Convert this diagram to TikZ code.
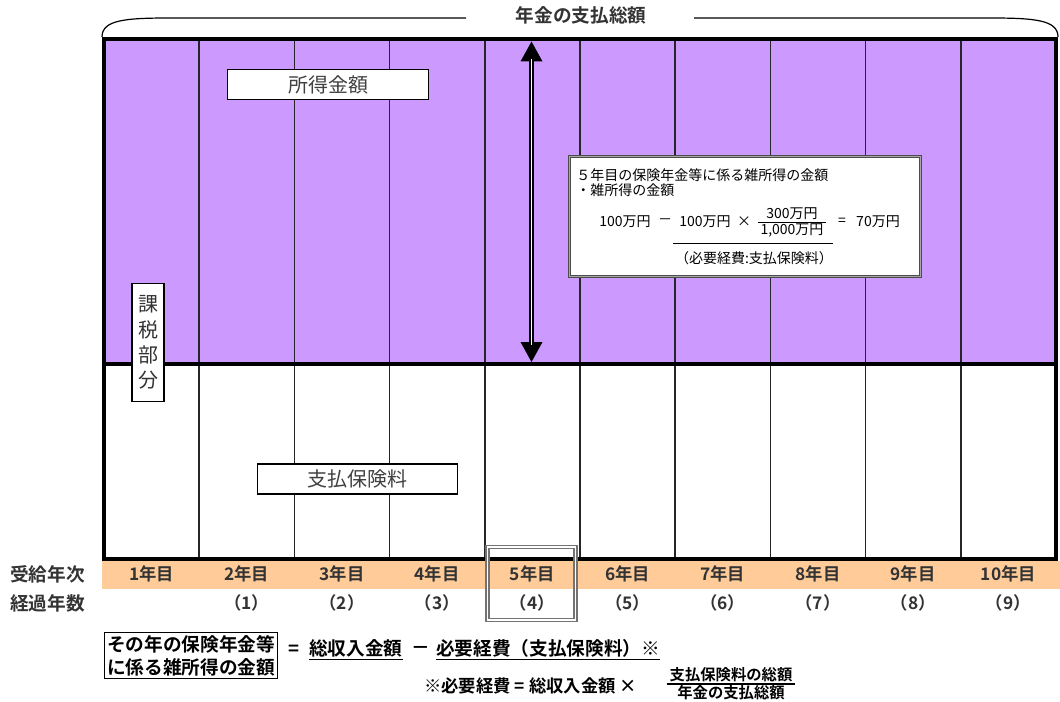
\documentclass[tikz,border=0pt]{standalone}
\usepackage{fontspec}
\setmainfont{Noto Sans CJK JP}[BoldFont={Noto Sans CJK JP Bold}]
\usetikzlibrary{arrows.meta}
\definecolor{kazei}{HTML}{CC99FF}
\definecolor{nenji}{HTML}{FFCC99}
\tikzset{
  waku/.style={draw, line width=0.9pt, fill=white, text=black!75,
    font=\fontsize{15}{18}\selectfont, inner sep=0pt},
  nen/.style={font=\bfseries\fontsize{13}{15}\selectfont, text=black!80},
  midashi/.style={font=\bfseries\fontsize{14}{16}\selectfont, text=black!80},
  setsumei/.style={font=\fontsize{10.5}{13}\selectfont, inner sep=0pt},
  shiki/.style={font=\bfseries\fontsize{14}{17.3}\selectfont, inner sep=0pt},
  chuki/.style={font=\bfseries\fontsize{13}{14}\selectfont, inner sep=0pt},
  yajirushi/.style={line width=4pt,
    {Triangle[width=16.5pt,length=15pt,line width=0pt]}-{Triangle[width=16.5pt,length=15pt,line width=0pt]}},
}
\begin{document}
\begin{tikzpicture}[x=0.75pt,y=-0.75pt]
\useasboundingbox (0,0) rectangle (1060,702);
% areas
\fill[kazei] (104,39) rectangle (1056,364);
\fill[nenji] (102,561) rectangle (1060,589);
% columns
\begin{scope}[line width=1.2pt, black!85]
  \draw (199.2,39) -- (199.2,559);
  \draw (294.4,39) -- (294.4,559);
  \draw (389.6,39) -- (389.6,559);
  \draw (484.8,39) -- (484.8,559);
  \draw (580.0,39) -- (580.0,559);
  \draw (675.2,39) -- (675.2,559);
  \draw (770.4,39) -- (770.4,559);
  \draw (865.6,39) -- (865.6,559);
  \draw (960.8,39) -- (960.8,559);
\end{scope}
\draw[line width=3pt] (104,364) -- (1056,364);
\draw[line width=3.4pt] (104,39) rectangle (1056,559);

% brace over the columns
\node[midashi] (sogaku) at (581,15) {年金の支払総額};
\coordinate (bl) at (102,37);
\coordinate (hl) at (466,18);
\coordinate (hr) at (694,18);
\coordinate (br) at (1058,37);
\draw[line width=0.9pt] (bl) .. controls (102,20) and (125,18) .. (170,18) -- (hl);
\draw[line width=0.9pt] (hr) -- (990,18) .. controls (1035,18) and (1058,20) .. (br);

% labels
\node[waku, minimum width=151pt, minimum height=23pt] (shotoku) at (328,84.5) {所得金額};
\node[waku, minimum width=150pt, minimum height=22.5pt] (hokenryo) at (357.5,479) {支払保険料};
\node[waku, minimum width=24pt, minimum height=89pt, align=center,
  font=\fontsize{15}{19}\selectfont, text=black!80] (kazeibu) at (148,342.5) {課\\税\\部\\分};

% arrow in the 5th column
\coordinate (yatop) at (531.5,41.5);
\coordinate (yabot) at (531.5,362);
\draw[yajirushi] (yatop) -- (yabot);
\draw[white, line width=1.4pt, shorten <=13pt, shorten >=13pt] (yatop) -- (yabot);

% 5th year box
\node[draw=black!70, line width=0.8pt, double=black!35, double distance=0.8pt, fill=white,
  minimum width=263pt, minimum height=90pt] (kei5) at (745,216.5) {};
\node[setsumei, anchor=west] (kei5a) at (576,175) {５年目の保険年金等に係る雑所得の金額};
\node[setsumei, anchor=west] (kei5b) at (576,190) {・雑所得の金額};
\node[setsumei] (sa) at (625,222) {100万円};
\node[setsumei] (hiku) at (665,222) {－};
\node[setsumei] (gen) at (705,222) {100万円};
\node[setsumei] (kake) at (744,222) {×};
\node[setsumei, align=center, inner xsep=2pt, font=\fontsize{10.5}{12.5}\selectfont] (bunsu) at (792,222.5) {300万円\\1,000万円};
\draw[line width=0.7pt] (bunsu.west) -- (bunsu.east);
\node[setsumei] (ko) at (842,222) {=};
\node[setsumei] (kotae) at (878,222) {70万円};
\coordinate (sen1) at (673,243);
\coordinate (sen2) at (833,243);
\draw[line width=0.7pt] (sen1) -- (sen2);
\node[setsumei] (hiyo) at (754,258) {（必要経費:支払保険料）};

% year rows
\draw
  (47.5,574) node[midashi] (jukyu){受給年次}
  (151.6,574) node[nen] (y1){1年目}
  (246.8,574) node[nen] (y2){2年目}
  (342.0,574) node[nen] (y3){3年目}
  (437.2,574) node[nen] (y4){4年目}
  (532.4,574) node[nen] (y5){5年目}
  (627.6,574) node[nen] (y6){6年目}
  (722.8,574) node[nen] (y7){7年目}
  (818.0,574) node[nen] (y8){8年目}
  (913.2,574) node[nen] (y9){9年目}
  (1008.4,574) node[nen] (y10){10年目};
\draw
  (47.5,603) node[midashi] (keika){経過年数}
  (246.8,603) node[nen] (k1){（1）}
  (342.0,603) node[nen] (k2){（2）}
  (437.2,603) node[nen] (k3){（3）}
  (532.4,603) node[nen] (k4){（4）}
  (627.6,603) node[nen] (k5){（5）}
  (722.8,603) node[nen] (k6){（6）}
  (818.0,603) node[nen] (k7){（7）}
  (913.2,603) node[nen] (k8){（8）}
  (1008.4,603) node[nen] (k9){（9）};
\node[draw=black!55, line width=1pt, double=white, double distance=1.2pt,
  minimum width=66pt, minimum height=55pt] (waku5) at (531.5,583.5) {};

% formula
\node[shiki, draw, line width=1.1pt, align=center, inner sep=2pt] (sonotoshi) at (191,655.5) {その年の保険年金等\\に係る雑所得の金額};
\node[shiki] (eq1) at (294,650) {=};
\node[shiki, anchor=west] (sounyu) at (309,650) {\underline{総収入金額}};
\node[shiki] (mi1) at (421,650) {－};
\node[shiki, anchor=west] (hitsuyo) at (436,650) {\underline{必要経費（支払保険料）※}};
\node[chuki, anchor=west] (chu) at (424,686) {※必要経費 = 総収入金額 ×};
\node[chuki, align=center, inner xsep=2pt, font=\bfseries\fontsize{11.5}{13.5}\selectfont] (bunsu2) at (731,684) {支払保険料の総額\\年金の支払総額};
\draw[line width=0.8pt] (bunsu2.west) -- (bunsu2.east);
\end{tikzpicture}
\end{document}
